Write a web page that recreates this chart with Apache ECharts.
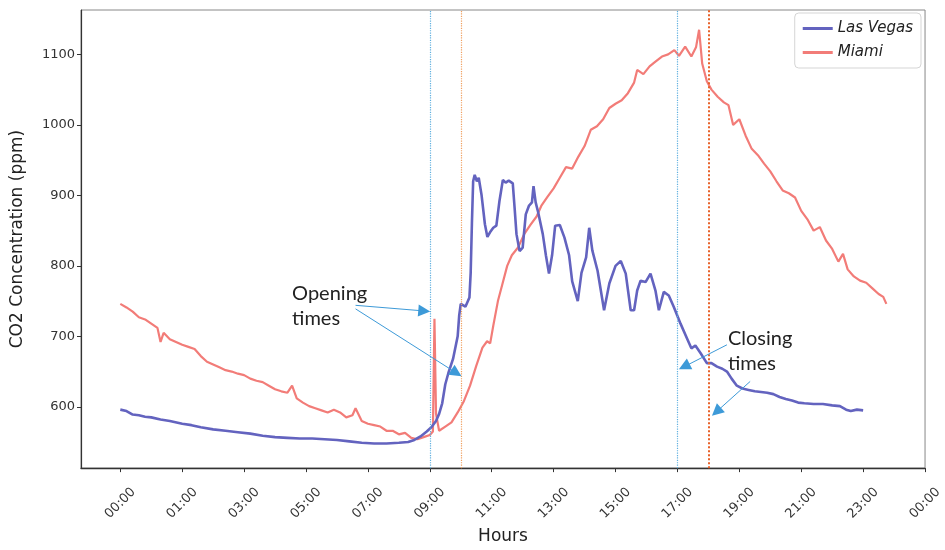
<!DOCTYPE html>
<html>
<head>
<meta charset="utf-8">
<script src="https://cdn.jsdelivr.net/npm/echarts@6/dist/echarts.min.js"></script>
<style>html,body{margin:0;padding:0;background:#fff}#c{width:945px;height:550px}</style>
</head>
<body>
<div id="c"></div>
<script>
// ---- data (hours, ppm) ----
const tickHours = [-1,1,3,5,7,9,11,13,15,17,19,21,23,25];
const tickLabels = ["00:00","01:00","03:00","05:00","07:00","09:00","11:00","13:00","15:00","17:00","19:00","21:00","23:00","00:00"];
const yTicks = [600,700,800,900,1000,1100];

const lvHours = [-1.0,-0.8,-0.6,-0.4,-0.2,0.0,0.3,0.6,1.0,1.3,1.6,2.0,2.4,2.8,3.2,3.6,4.0,4.4,4.8,5.2,5.6,6.0,6.4,6.8,7.2,7.6,8.0,8.3,8.5,8.7,8.9,9.05,9.2,9.3,9.4,9.5,9.6,9.75,9.9,9.95,10.0,10.15,10.28,10.32,10.36,10.4,10.45,10.52,10.58,10.67,10.78,10.86,10.95,11.05,11.15,11.25,11.36,11.45,11.55,11.68,11.74,11.8,11.9,12.0,12.1,12.2,12.3,12.35,12.42,12.5,12.65,12.75,12.85,12.95,13.05,13.2,13.35,13.5,13.6,13.78,13.9,14.05,14.15,14.25,14.42,14.63,14.8,15.0,15.17,15.33,15.49,15.6,15.7,15.81,15.97,16.13,16.29,16.4,16.56,16.72,16.88,17.1,17.31,17.45,17.58,17.75,17.95,18.1,18.28,18.45,18.6,18.75,18.92,19.1,19.3,19.5,19.7,19.9,20.1,20.3,20.5,20.7,20.9,21.1,21.4,21.7,22.0,22.25,22.45,22.6,22.8,23.0];
const lvValues = [596,594,589,588,586,585,582,580,576,574,571,568,566,564,562,559,557,556,555,555,554,553,551,549,548,548,549,550,553,558,565,571,580,590,605,632,648,668,700,730,746,742,755,790,860,920,929,920,925,901,859,841,848,854,857,892,922,918,921,917,882,845,821,826,873,885,890,913,890,876,845,815,789,815,857,858,840,815,778,750,790,812,854,822,793,737,775,800,807,789,737,737,765,779,777,789,765,737,763,758,742,718,697,683,687,676,662,662,657,654,650,640,630,626,624,622,621,620,618,614,611,609,606,605,604,604,602,601,596,594,596,595];

const miHours = [-1.0,-0.8,-0.6,-0.4,-0.2,0.0,0.2,0.3,0.4,0.6,0.8,1.0,1.2,1.4,1.6,1.8,2.0,2.2,2.4,2.6,2.8,3.0,3.2,3.4,3.6,3.8,4.0,4.2,4.4,4.55,4.7,4.9,5.1,5.3,5.5,5.7,5.9,6.1,6.3,6.5,6.6,6.8,7.0,7.2,7.4,7.6,7.8,8.0,8.2,8.4,8.6,8.8,9.0,9.1,9.15,9.2,9.3,9.5,9.7,9.9,10.1,10.3,10.5,10.7,10.85,10.95,11.05,11.2,11.35,11.5,11.65,11.85,12.05,12.25,12.45,12.6,12.8,13.0,13.2,13.4,13.6,13.8,14.0,14.2,14.4,14.6,14.8,15.0,15.2,15.4,15.6,15.7,15.9,16.1,16.3,16.5,16.7,16.9,17.05,17.25,17.45,17.6,17.7,17.8,17.95,18.1,18.3,18.5,18.65,18.8,19.0,19.2,19.4,19.6,19.8,20.0,20.2,20.4,20.6,20.8,21.0,21.2,21.4,21.6,21.8,22.0,22.2,22.35,22.5,22.7,22.9,23.1,23.3,23.5,23.65,23.75];
const miValues = [746,741,735,727,724,718,712,692,705,696,692,688,685,682,672,664,660,656,652,650,647,645,640,637,635,630,625,622,620,630,612,606,601,598,595,592,596,592,585,588,598,580,576,574,572,566,566,561,563,556,554,557,560,565,725,590,566,572,578,592,608,630,658,684,693,690,715,750,775,800,815,826,845,858,870,885,898,910,925,940,938,955,970,993,998,1008,1024,1030,1035,1045,1060,1078,1072,1083,1090,1097,1100,1106,1098,1111,1097,1110,1135,1087,1062,1050,1040,1032,1028,1000,1008,985,966,957,945,934,920,907,903,897,878,866,850,855,836,824,806,817,795,785,779,776,768,760,756,746];

// opening / closing times (hours)
const lvOpenClose = [9, 17];
const miOpenClose = [10, 18];

// annotation arrows: [startHour, startPpm, endHour, endPpm]
const arrows = [[6.6,744,8.82,736],[6.6,739,9.86,648],[18.6,688,17.22,657],[19.35,636,18.26,593]];
// annotation texts: [text, hour, ppm] (top-left anchor)
const notes = [["Opening\ntimes",4.55,778],["Closing\ntimes",18.63,714]];

const chart = echarts.init(document.getElementById('c'));
const FONT = 'DejaVu Sans';

chart.setOption({
  animation: false,
  backgroundColor: '#fff',
  grid: {left: 81, right: 16, top: 10, bottom: 77, show: true, borderColor: '#888', borderWidth: 1},
  legend: {
    right: 24, top: 13, orient: 'vertical', itemWidth: 30, itemHeight: 3, itemGap: 9, icon: 'rect',
    padding: [8, 8, 8, 8], borderColor: '#d5d5d5', borderWidth: 1, borderRadius: 4,
    textStyle: {fontFamily: FONT, fontStyle: 'italic', fontSize: 15, color: '#222'},
    data: ['Las Vegas', 'Miami']
  },
  xAxis: {
    type: 'value', min: -2.27, max: 25,
    name: 'Hours', nameLocation: 'middle', nameGap: 55,
    nameTextStyle: {fontFamily: FONT, fontSize: 17, color: '#222'},
    axisLine: {onZero: false, lineStyle: {color: '#333', width: 1.3}},
    axisTick: {show: true, length: 4, lineStyle: {color: '#333'}, customValues: tickHours},
    axisLabel: {
      customValues: tickHours, rotate: 45, align: 'center', verticalAlign: 'middle', margin: 35,
      fontFamily: FONT, fontSize: 13, color: '#333',
      formatter: v => tickLabels[tickHours.indexOf(v)] ?? ''
    },
    splitLine: {show: false}
  },
  yAxis: {
    type: 'value', min: 513, max: 1163,
    name: 'CO2 Concentration (ppm)', nameLocation: 'middle', nameGap: 55, nameRotate: 90,
    nameTextStyle: {fontFamily: FONT, fontSize: 17, color: '#222'},
    axisLine: {show: true, onZero: false, lineStyle: {color: '#333', width: 1.2}},
    axisTick: {show: true, length: 4, lineStyle: {color: '#333'}, customValues: yTicks},
    axisLabel: {customValues: yTicks, fontFamily: FONT, fontSize: 13, color: '#333', margin: 6,
      formatter: v => String(v)},
    splitLine: {show: false}
  },
  series: [
    {
      name: 'Las Vegas', type: 'line', symbol: 'none', z: 3,
      lineStyle: {color: '#6363bf', width: 2.6}, itemStyle: {color: '#6363bf'},
      data: lvHours.map((h, i) => [h, lvValues[i]]),
      markLine: {
        silent: true, symbol: 'none', label: {show: false},
        lineStyle: {color: '#5fb0e0', type: 'dotted', width: 1.2},
        data: lvOpenClose.map(h => ({xAxis: h}))
      }
    },
    {
      name: 'Miami', type: 'line', symbol: 'none', z: 2,
      lineStyle: {color: '#f27c78', width: 2.2}, itemStyle: {color: '#f27c78'},
      data: miHours.map((h, i) => [h, miValues[i]]),
      markLine: {
        silent: true, symbol: 'none', label: {show: false},
        data: [
          {xAxis: miOpenClose[0], lineStyle: {color: '#f0a060', type: 'dotted', width: 1.2}},
          {xAxis: miOpenClose[1], lineStyle: {color: '#e8622a', type: 'dotted', width: 2}}
        ]
      }
    },
    {
      name: 'arrows', type: 'line', data: [], symbol: 'none', z: 5,
      markLine: {
        silent: true, symbol: ['none', 'triangle'], symbolSize: 12, label: {show: false},
        itemStyle: {color: '#3d9ad8'},
        lineStyle: {color: '#3d9ad8', type: 'solid', width: 1},
        data: arrows.map(a => [{coord: [a[0], a[1]]}, {coord: [a[2], a[3]]}])
      }
    }
  ]
});

const g = notes.map(n => {
  const p = chart.convertToPixel({gridIndex: 0}, [n[1], n[2]]);
  return {type: 'text', x: p[0], y: p[1], z: 10,
    style: {text: n[0], font: '20px Lato', fill: '#222', lineHeight: 25, verticalAlign: 'top', align: 'left'}};
});
chart.setOption({graphic: g});
</script>
</body>
</html>
